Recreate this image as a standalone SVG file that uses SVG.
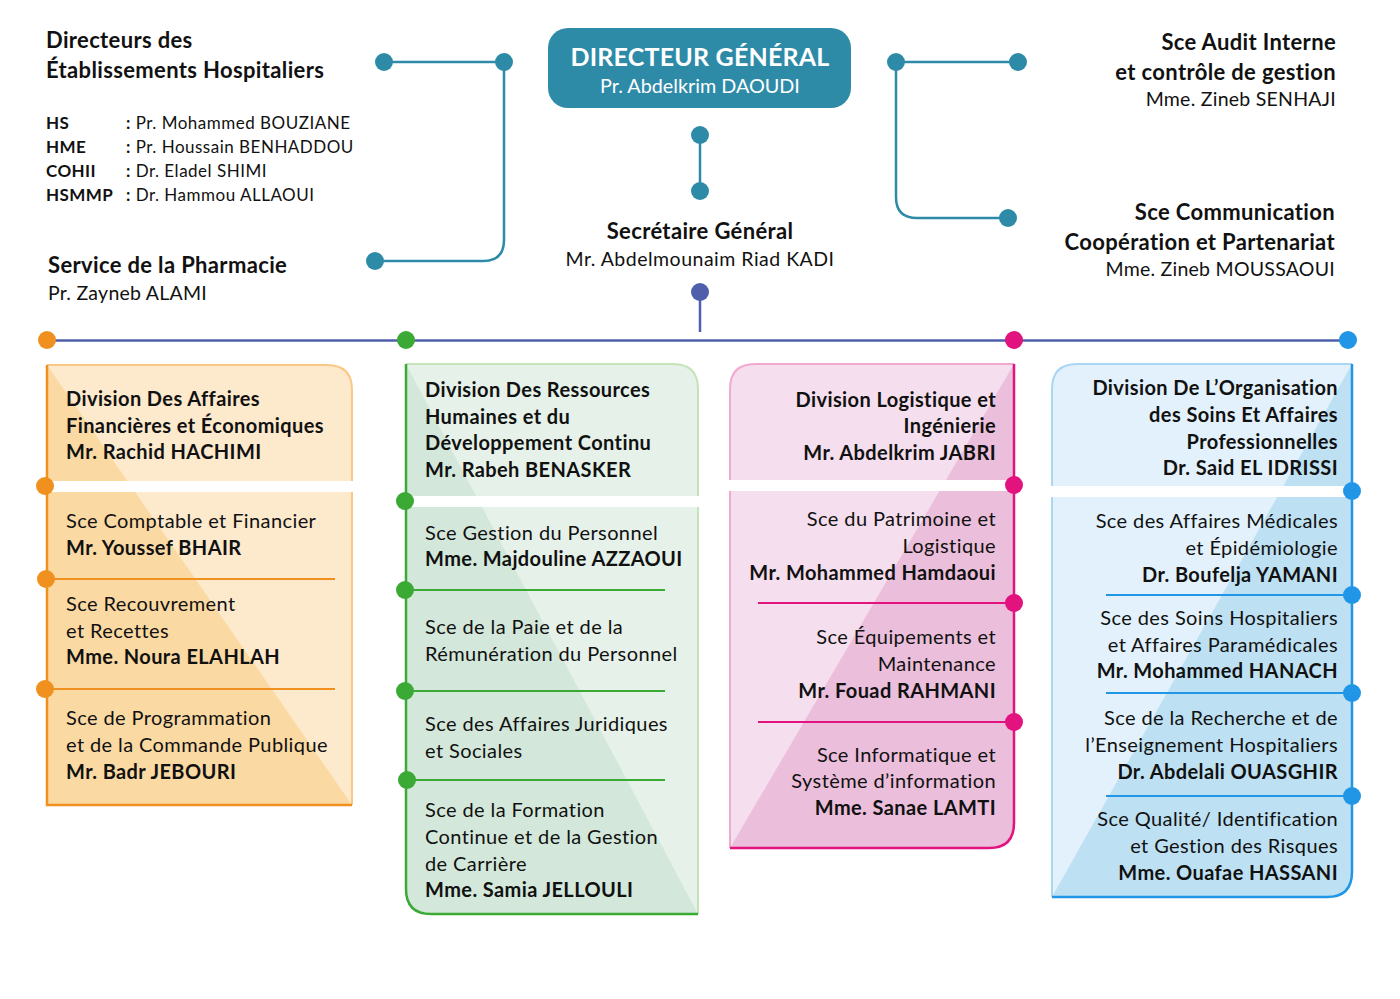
<svg xmlns="http://www.w3.org/2000/svg" width="1400" height="999" viewBox="0 0 1400 999">
<defs>
<style>
text{font-family:Lato,"Open Sans","Liberation Sans",sans-serif;fill:#111;}
.h{font-size:22px;font-weight:bold;letter-spacing:0.35px;}
.n{font-size:19.5px;letter-spacing:0.25px;}
.b{font-size:20px;font-weight:bold;letter-spacing:0.4px;}
.r{font-size:20px;letter-spacing:0.4px;}
.l{font-size:17px;letter-spacing:0.5px;}
.lb{font-size:17px;font-weight:bold;letter-spacing:0.4px;}
.e{text-anchor:end;}
.m{text-anchor:middle;}
.tl{fill:none;stroke:#2e8ba8;stroke-width:2.5;}
.td{fill:#2e8ba8;}
.band{fill:#fff;}
</style>
<clipPath id="cO"><path d="M47,365 H327 Q352,365 352,390 V805 H47 Z"/></clipPath>
<clipPath id="cG"><path d="M406,364 H673 Q698,364 698,389 V914 H431 Q406,914 406,889 Z"/></clipPath>
<clipPath id="cP"><path d="M755,364 H1014 V823 Q1014,848 989,848 H730 V389 Q730,364 755,364 Z"/></clipPath>
<clipPath id="cB"><path d="M1077,364 H1352 V872 Q1352,897 1327,897 H1052 V389 Q1052,364 1077,364 Z"/></clipPath>
</defs>
<rect width="1400" height="999" fill="#fff"/>

<g id="connectors">
<path class="tl" d="M384,62 H504 V240 Q504,261 483,261 H375"/>
<circle class="td" cx="384" cy="62" r="9"/><circle class="td" cx="504" cy="62" r="9"/><circle class="td" cx="375" cy="261" r="9"/>
<path class="tl" d="M1018,62 H896 V197 Q896,218 917,218 H1008"/>
<circle class="td" cx="896" cy="62" r="9"/><circle class="td" cx="1018" cy="62" r="9"/><circle class="td" cx="1008" cy="218" r="9"/>
<path class="tl" d="M700,135 V191"/>
<circle class="td" cx="700" cy="135" r="9"/><circle class="td" cx="700" cy="191" r="9"/>
<path d="M700,292 V332" stroke="#4f5fac" stroke-width="2.5"/>
<circle cx="700" cy="292" r="9" fill="#4f5fac"/>
<path d="M47,340.5 H1348" stroke="#4f5fac" stroke-width="2.5"/>
<circle cx="47" cy="340" r="9" fill="#f0901e"/>
<circle cx="406" cy="340" r="9" fill="#3aaa35"/>
<circle cx="1014" cy="340" r="9" fill="#e2127e"/>
<circle cx="1348" cy="340" r="9" fill="#2196e6"/>
</g>

<g id="directeur-general">
<rect x="548" y="28" width="303" height="80" rx="20" fill="#2e8ba8"/>
<text x="700" y="66" class="m" style="fill:#fff;font-size:25px;font-weight:bold;letter-spacing:0.2px">DIRECTEUR GÉNÉRAL</text>
<text x="700" y="93" class="m" style="fill:#fff;font-size:19.8px">Pr. Abdelkrim DAOUDI</text>
</g>

<g id="secretaire-general">
<text x="700" y="239" class="h m">Secrétaire Général</text>
<text x="700" y="266" class="m" style="font-size:19.5px;letter-spacing:0.5px">Mr. Abdelmounaim Riad KADI</text>
</g>

<g id="directeurs-etablissements">
<text x="46" y="48" class="h">Directeurs des</text>
<text x="46" y="78" class="h">Établissements Hospitaliers</text>
<text x="46" y="129" class="lb">HS</text><text x="126" y="129" class="l"><tspan font-weight="bold">:</tspan> Pr. Mohammed BOUZIANE</text>
<text x="46" y="153" class="lb">HME</text><text x="126" y="153" class="l"><tspan font-weight="bold">:</tspan> Pr. Houssain BENHADDOU</text>
<text x="46" y="177" class="lb">COHII</text><text x="126" y="177" class="l"><tspan font-weight="bold">:</tspan> Dr. Eladel SHIMI</text>
<text x="46" y="201" class="lb">HSMMP</text><text x="126" y="201" class="l"><tspan font-weight="bold">:</tspan> Dr. Hammou ALLAOUI</text>
</g>

<g id="pharmacie">
<text x="48" y="273" class="h">Service de la Pharmacie</text>
<text x="48" y="300" class="n">Pr. Zayneb ALAMI</text>
</g>

<g id="audit">
<text x="1336" y="50" class="h e">Sce Audit Interne</text>
<text x="1336" y="80" class="h e">et contrôle de gestion</text>
<text x="1336" y="106" class="n e">Mme. Zineb SENHAJI</text>
</g>

<g id="communication">
<text x="1335" y="220" class="h e">Sce Communication</text>
<text x="1335" y="250" class="h e">Coopération et Partenariat</text>
<text x="1335" y="276" class="n e">Mme. Zineb MOUSSAOUI</text>
</g>

<g id="division-financiere">
<g clip-path="url(#cO)">
<rect x="40" y="360" width="320" height="450" fill="#fde9cc"/>
<polygon points="47,365 352,805 47,805" fill="#fbd9a3"/>
</g>
<path d="M47,365 H327 Q352,365 352,390 V805" fill="none" stroke="#fbc785" stroke-width="2"/>
<path d="M47,365 V805 H352" fill="none" stroke="#f0901e" stroke-width="2.5"/>
<rect class="band" x="48.5" y="481" width="306" height="11"/>
<path d="M47,579 H335 M47,689 H335" stroke="#f0901e" stroke-width="2"/>
<circle cx="45" cy="486" r="9" fill="#f0901e"/>
<circle cx="46" cy="579" r="9" fill="#f0901e"/>
<circle cx="45" cy="689" r="9" fill="#f0901e"/>
<text x="66" y="406" class="b">Division Des Affaires</text>
<text x="66" y="433" class="b">Financières et Économiques</text>
<text x="66" y="459" class="b">Mr. Rachid HACHIMI</text>
<text x="66" y="528" class="r">Sce Comptable et Financier</text>
<text x="66" y="555" class="b">Mr. Youssef BHAIR</text>
<text x="66" y="611" class="r">Sce Recouvrement</text>
<text x="66" y="638" class="r">et Recettes</text>
<text x="66" y="664" class="b">Mme. Noura ELAHLAH</text>
<text x="66" y="725" class="r">Sce de Programmation</text>
<text x="66" y="752" class="r">et de la Commande Publique</text>
<text x="66" y="779" class="b">Mr. Badr JEBOURI</text>
</g>

<g id="division-rh">
<g clip-path="url(#cG)">
<rect x="400" y="360" width="305" height="560" fill="#e6f1e9"/>
<polygon points="406,364 698,914 406,914" fill="#d3e8da"/>
</g>
<path d="M406,364 H673 Q698,364 698,389 V914" fill="none" stroke="#c5e3b8" stroke-width="2"/>
<path d="M406,364 V889 Q406,914 431,914 H698" fill="none" stroke="#3aaa35" stroke-width="2.5"/>
<rect class="band" x="407.5" y="496" width="294" height="11"/>
<path d="M406,590 H665 M406,691 H665 M406,780 H665" stroke="#3aaa35" stroke-width="2"/>
<circle cx="405" cy="501" r="9" fill="#3aaa35"/>
<circle cx="405" cy="590" r="9" fill="#3aaa35"/>
<circle cx="405" cy="691" r="9" fill="#3aaa35"/>
<circle cx="407" cy="780" r="9" fill="#3aaa35"/>
<text x="425" y="397" class="b">Division Des Ressources</text>
<text x="425" y="424" class="b">Humaines et du</text>
<text x="425" y="450" class="b">Développement Continu</text>
<text x="425" y="477" class="b">Mr. Rabeh BENASKER</text>
<text x="425" y="540" class="r">Sce Gestion du Personnel</text>
<text x="425" y="566" class="b">Mme. Majdouline AZZAOUI</text>
<text x="425" y="634" class="r">Sce de la Paie et de la</text>
<text x="425" y="661" class="r">Rémunération du Personnel</text>
<text x="425" y="731" class="r">Sce des Affaires Juridiques</text>
<text x="425" y="758" class="r">et Sociales</text>
<text x="425" y="817" class="r">Sce de la Formation</text>
<text x="425" y="844" class="r">Continue et de la Gestion</text>
<text x="425" y="871" class="r">de Carrière</text>
<text x="425" y="897" class="b">Mme. Samia JELLOULI</text>
</g>

<g id="division-logistique">
<g clip-path="url(#cP)">
<rect x="725" y="360" width="295" height="495" fill="#f5deed"/>
<polygon points="1014,364 1014,848 730,848" fill="#ebbedb"/>
</g>
<path d="M730,848 V389 Q730,364 755,364 H1014" fill="none" stroke="#f2a9d0" stroke-width="2"/>
<path d="M1014,364 V823 Q1014,848 989,848 H730" fill="none" stroke="#e2127e" stroke-width="2.5"/>
<rect class="band" x="727" y="480" width="285.5" height="11"/>
<path d="M758,603 H1014 M758,722 H1014" stroke="#e2127e" stroke-width="2"/>
<circle cx="1014" cy="485" r="9" fill="#e2127e"/>
<circle cx="1014" cy="603" r="9" fill="#e2127e"/>
<circle cx="1014" cy="722" r="9" fill="#e2127e"/>
<text x="996" y="407" class="b e">Division Logistique et</text>
<text x="996" y="433" class="b e">Ingénierie</text>
<text x="996" y="460" class="b e">Mr. Abdelkrim JABRI</text>
<text x="996" y="526" class="r e">Sce du Patrimoine et</text>
<text x="996" y="553" class="r e">Logistique</text>
<text x="996" y="580" class="b e">Mr. Mohammed Hamdaoui</text>
<text x="996" y="644" class="r e">Sce Équipements et</text>
<text x="996" y="671" class="r e">Maintenance</text>
<text x="996" y="698" class="b e">Mr. Fouad RAHMANI</text>
<text x="996" y="762" class="r e">Sce Informatique et</text>
<text x="996" y="788" class="r e">Système d’information</text>
<text x="996" y="815" class="b e">Mme. Sanae LAMTI</text>
</g>

<g id="division-soins">
<g clip-path="url(#cB)">
<rect x="1045" y="360" width="315" height="545" fill="#e2f1fb"/>
<polygon points="1352,364 1352,897 1052,897" fill="#bde0f3"/>
</g>
<path d="M1052,897 V389 Q1052,364 1077,364 H1352" fill="none" stroke="#a9d6f3" stroke-width="2"/>
<path d="M1352,364 V872 Q1352,897 1327,897 H1052" fill="none" stroke="#2196e6" stroke-width="2.5"/>
<rect class="band" x="1049" y="486" width="301.5" height="11"/>
<path d="M1106,595 H1352 M1106,693 H1352 M1106,796 H1352" stroke="#2196e6" stroke-width="2"/>
<circle cx="1352" cy="491" r="9" fill="#2196e6"/>
<circle cx="1352" cy="595" r="9" fill="#2196e6"/>
<circle cx="1352" cy="693" r="9" fill="#2196e6"/>
<circle cx="1352" cy="796" r="9" fill="#2196e6"/>
<text x="1338" y="395" class="b e">Division De L’Organisation</text>
<text x="1338" y="422" class="b e">des Soins Et Affaires</text>
<text x="1338" y="449" class="b e">Professionnelles</text>
<text x="1338" y="475" class="b e">Dr. Said EL IDRISSI</text>
<text x="1338" y="528" class="r e">Sce des Affaires Médicales</text>
<text x="1338" y="555" class="r e">et Épidémiologie</text>
<text x="1338" y="582" class="b e">Dr. Boufelja YAMANI</text>
<text x="1338" y="625" class="r e">Sce des Soins Hospitaliers</text>
<text x="1338" y="652" class="r e">et Affaires Paramédicales</text>
<text x="1338" y="678" class="b e">Mr. Mohammed HANACH</text>
<text x="1338" y="725" class="r e">Sce de la Recherche et de</text>
<text x="1338" y="752" class="r e">l’Enseignement Hospitaliers</text>
<text x="1338" y="779" class="b e">Dr. Abdelali OUASGHIR</text>
<text x="1338" y="826" class="r e">Sce Qualité/ Identification</text>
<text x="1338" y="853" class="r e">et Gestion des Risques</text>
<text x="1338" y="880" class="b e">Mme. Ouafae HASSANI</text>
</g>
</svg>
